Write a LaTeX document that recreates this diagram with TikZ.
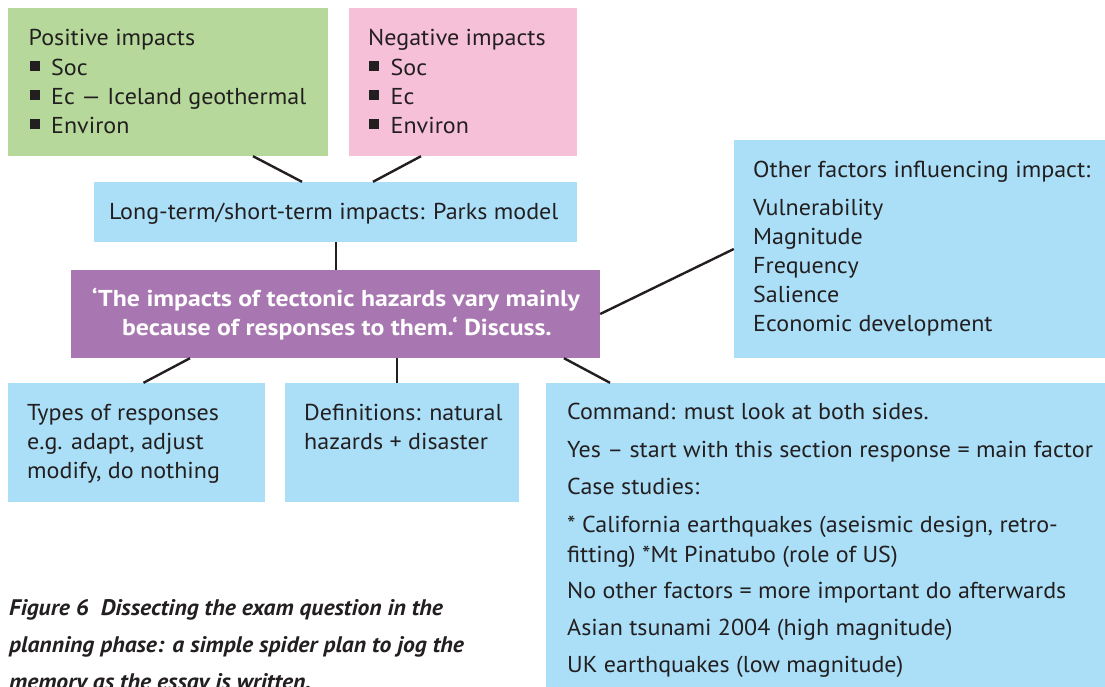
\documentclass[tikz,border=0pt]{standalone}
\usepackage{fontspec}
\setmainfont{PT Sans}[FakeStretch=1.045,BoldFeatures={FakeStretch=1.12},BoldItalicFeatures={FakeStretch=1.05}]
\definecolor{ink}{HTML}{231F20}
\definecolor{gbox}{HTML}{B6D99B}
\definecolor{pbox}{HTML}{F6C0D9}
\definecolor{bbox}{HTML}{AADFF7}
\definecolor{qbox}{HTML}{A877B1}
\newcommand\sqbul{\rule[4pt]{10pt}{10pt}\hspace{11.5pt}}
\tikzset{
  boxnode/.style={draw=none,rectangle,inner sep=0pt},
  txt/.style={anchor=base west,inner sep=0pt,text=ink,font=\fontsize{23}{28}\selectfont},
  qtxt/.style={anchor=base,inner sep=0pt,text=white,font=\bfseries\fontsize{23}{28}\selectfont},
  captxt/.style={anchor=base west,inner sep=0pt,text=ink,font=\bfseries\itshape\fontsize{22.5}{28}\selectfont},
  link/.style={draw=ink,line width=2.4pt}
}
\begin{document}
\begin{tikzpicture}[x=1pt,y=-1pt]
\useasboundingbox (0,0) rectangle (1105,686);
\clip (0,0) rectangle (1105,686);
% boxes
\node[boxnode,fill=gbox,minimum width=320pt,minimum height=148pt] (pos) at (168,82) {};
\node[boxnode,fill=pbox,minimum width=228pt,minimum height=148pt] (neg) at (463,82) {};
\node[boxnode,fill=bbox,minimum width=483pt,minimum height=60pt] (lt) at (335.5,212) {};
\node[boxnode,fill=qbox,minimum width=529pt,minimum height=88pt] (q) at (335.5,314) {};
\node[boxnode,fill=bbox,minimum width=376pt,minimum height=218pt] (oth) at (922,249) {};
\node[boxnode,fill=bbox,minimum width=257pt,minimum height=119pt] (typ) at (136.5,442.5) {};
\node[boxnode,fill=bbox,minimum width=234pt,minimum height=119pt] (def) at (402,442.5) {};
\node[boxnode,fill=bbox,minimum width=564pt,minimum height=317pt] (cmd) at (828,541.5) {};
% connectors
\draw[link] ([xshift=85pt]pos.south) -- ([xshift=-33.5pt]lt.north);
\draw[link] ([xshift=-42pt]neg.south) -- ([xshift=37.5pt]lt.north);
\draw[link] ([xshift=0.5pt]lt.south) -- ([xshift=0.5pt]q.north);
\draw[link] (q.east) -- (oth.west);
\draw[link] ([xshift=-145.5pt]q.south) -- ([xshift=7pt]typ.north);
\draw[link] ([xshift=61.5pt]q.south) -- ([xshift=-5pt]def.north);
\draw[link] ([xshift=228.5pt]q.south) -- ([xshift=-218pt]cmd.north);
% positive
\node[txt] (p0) at (28.5,45) {Positive impacts};
\node[txt] (p1) at (29.5,75) {\sqbul Soc};
\node[txt] (p2) at (29.5,104) {\sqbul Ec — Iceland geothermal};
\node[txt] (p3) at (29.5,133) {\sqbul Environ};
% negative
\node[txt] (n0) at (368,45) {Negative impacts};
\node[txt] (n1) at (369,75) {\sqbul Soc};
\node[txt] (n2) at (369,104) {\sqbul Ec};
\node[txt] (n3) at (369,133) {\sqbul Environ};
% long term
\node[txt] (l0) at (109,219) {Long-term/short-term impacts: Parks model};
% question
\node[qtxt] (q1) at (336,306) {‘The impacts of tectonic hazards vary mainly};
\node[qtxt] (q2) at (337,335) {because of responses to them.‘ Discuss.};
% other factors
\node[txt] (o0) at (753,177) {Other factors influencing impact:};
\node[txt] (o1) at (753,215) {Vulnerability};
\node[txt] (o2) at (753,244) {Magnitude};
\node[txt] (o3) at (753,273) {Frequency};
\node[txt] (o4) at (753,302) {Salience};
\node[txt] (o5) at (753,331) {Economic development};
% types
\node[txt] (t1) at (27,420) {Types of responses};
\node[txt] (t2) at (27,449) {e.g. adapt, adjust};
\node[txt] (t3) at (27,478) {modify, do nothing};
% definitions
\node[txt] (d1) at (304,420) {Definitions: natural};
\node[txt] (d2) at (304,449) {hazards + disaster};
% command
\node[txt] (c1) at (567,419) {Command: must look at both sides.};
\node[txt] (c2) at (567,457) {Yes – start with this section response = main factor};
\node[txt] (c3) at (567,494) {Case studies:};
\node[txt] (c4) at (567,532) {* California earthquakes (aseismic design, retro-};
\node[txt] (c5) at (567,562) {fitting) *Mt Pinatubo (role of US)};
\node[txt] (c6) at (567,598) {No other factors = more important do afterwards};
\node[txt] (c7) at (567,635) {Asian tsunami 2004 (high magnitude)};
\node[txt] (c8) at (567,672) {UK earthquakes (low magnitude)};
% caption
\node[captxt] (f1) at (9,615) {Figure 6\hspace{12pt}Dissecting the exam question in the};
\node[captxt] (f2) at (9,652) {planning phase: a simple spider plan to jog the};
\node[captxt] (f3) at (9,689) {memory as the essay is written.};
\end{tikzpicture}
\end{document}
